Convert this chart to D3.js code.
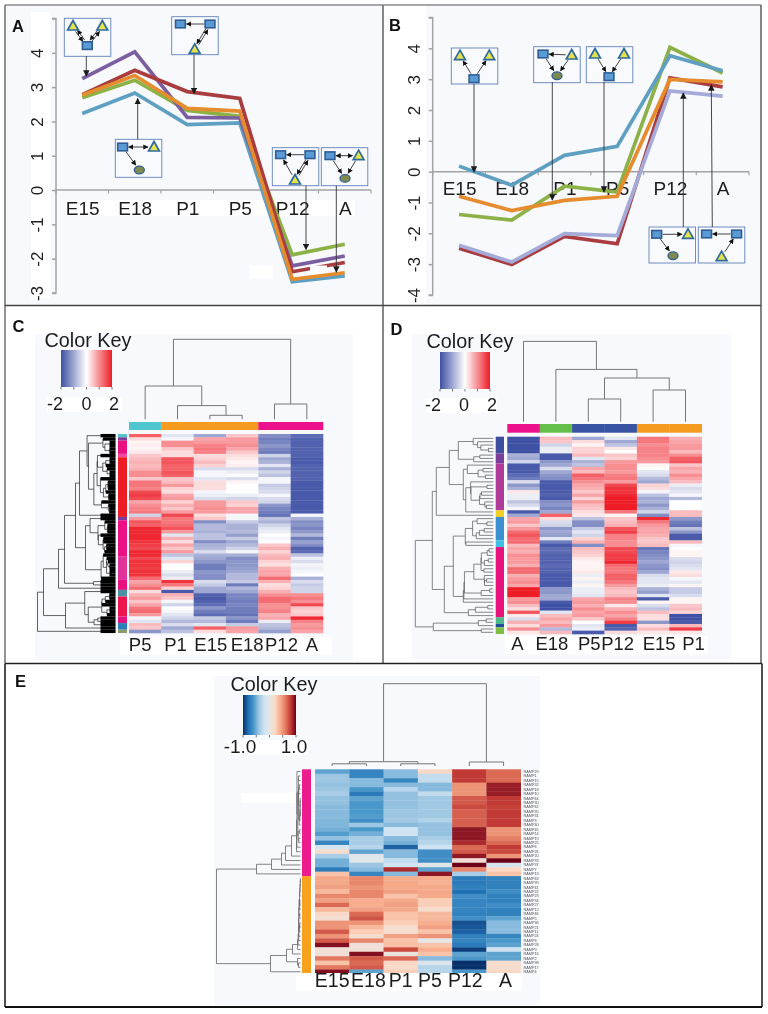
<!DOCTYPE html>
<html><head><meta charset="utf-8">
<style>html,body{margin:0;padding:0;background:#fff}svg{display:block;filter:blur(.35px)}text{font-family:"Liberation Sans",Arial,sans-serif}</style>
<script src="https://cdn.jsdelivr.net/npm/d3@7"></script></head><body>
<svg id="c" width="768" height="1014"></svg>
<script>
// ---------- data ----------
const stages=["E15","E18","P1","P5","P12","A"];
const linesA={
 blue:[2.23,2.83,1.91,1.96,-2.67,-2.5],
 green:[2.69,3.2,2.32,2.15,-1.89,-1.58],
 purple:[3.25,4.03,2.12,2.1,-2.21,-1.92],
 red:[2.78,3.49,2.87,2.67,-2.38,-2.11],
 orange:[2.77,3.34,2.38,2.3,-2.6,-2.41]};
const linesB={
 red:[-2.48,-3.01,-2.1,-2.34,3.04,2.75],
 lavender:[-2.39,-2.93,-2.01,-2.07,2.62,2.45],
 green:[-1.39,-1.57,-0.47,-0.66,4.03,3.2],
 blue:[0.18,-0.44,0.53,0.82,3.76,3.27],
 orange:[-0.8,-1.26,-0.93,-0.8,2.99,2.91]};
const lineColors={blue:"#5f9fc2",green:"#8cb146",purple:"#7b5ea0",red:"#a83c3e",orange:"#e48c2e",lavender:"#a5abd8"};

const colsC=["P5","P1","E15","E18","P12","A"];
const heatC=[
[1.4,-.3,-1,.5,-1.3,-1.7],[.3,-.1,.8,.9,-1.5,-1.8],[.1,1,.9,.9,-1.4,-1.8],[.15,1,1.1,1,-1.2,-1.8],[.1,.5,1.2,.8,-1.4,-1.8],
[.2,.3,1.1,.5,-1.5,-1.8],[.5,.3,.3,.3,-.5,-1.8],[.6,1.5,.4,.2,-1,-1.9],[.7,1.5,.6,.1,-.9,-1.9],[.6,1.4,.4,.15,-.3,-1.8],
[.7,1.4,-.4,-.4,-.9,-1.8],[1,1.5,-.1,-.2,-.5,-1.8],[1,1.4,-.1,-.05,-.7,-1.8],[.5,.5,-.3,-.4,-.1,-1.8],[1.2,.6,.3,.1,-.1,-1.9],
[1.2,.9,.3,0,-.6,-1.9],[1.1,.4,.3,0,-.5,-1.9],[1.6,.3,-.1,0,-.4,-1.9],[1.7,.8,-.2,-.2,-.1,-1.9],[1.6,.9,-.4,-.5,-.4,-1.9],
[.8,.4,.9,.5,-.5,-1.9],[1,.7,.9,.4,-1.2,-1.9],[1.1,.5,1,.8,-1.4,-1.9],[1.2,.9,.9,.8,-1.5,-1.9],[-.5,1.6,.3,-.1,-1.6,-.1],
[.9,1.2,.5,-.1,-.7,-.9],[1.5,1.2,-1.3,-.6,-.9,-1.3],[1.4,1.3,-.8,-.9,-.5,-1.2],[1.9,1.5,-.8,-.9,-.3,-1.4],[1.9,.9,-.9,-.8,-.2,-1.2],
[1.9,-.3,-.7,-1.1,0,-.8],[1.9,.7,-.7,-.6,-.1,-1.5],[1.8,.3,-1.3,-1,0,-1.1],[1.7,.8,-.9,-.8,.5,-1.3],[1.6,.5,-.8,-.5,.7,-1.8],
[1.9,.9,-.4,-.1,.4,-1.7],[1.9,-.7,-.9,-.9,.6,-.7],[1.6,-.3,-1,-1.3,.7,-.2],[1.8,.4,-1.2,-1.2,.4,-.4],[1.8,0,-1.5,-1.2,.3,-.1],
[1.7,0,-1.5,-1.1,.7,-.2],[1.8,-.2,-1.2,-1,.8,-.1],[1.8,-.4,-1.3,-.8,.8,0],[1.3,-.2,-1.3,-.8,1.3,-.9],[.8,1.8,-.4,-.6,.7,-.4],
[1,1.2,-.6,-1.5,.3,-.6],[1.3,.4,-1,-.8,.4,-.5],[.3,-1.9,-1,-1,.7,-.5],[.7,.7,-1.8,-1.4,1,1],[.9,.5,-1.9,-1.4,1.3,1.2],
[.5,-.1,-1.8,-1.5,1.3,1],[.8,-.5,-1.7,-1.4,1,1.6],[1.2,0,-1.2,-1.5,1,.5],[1.3,-.1,-1.5,-1.5,1.1,.4],[.9,-.3,-1.7,-1.6,.7,.5],
[-.1,-.5,-.6,-1.2,.8,1.9],[-.3,-.8,-.8,-1.5,-.2,1.1],[.6,-.4,-.3,-.6,-.7,.9],[.5,-1,1.4,.9,-.8,1],[-1.2,-.7,.3,.8,-1.1,.8]];

const colsD=["A","E18","P5","P12","E15","P1"];
const heatD=[
[-2,.6,-1,-.3,1.2,.7],[-2,.5,.3,-1,1.2,.8],[-2,-.5,.1,-.7,1,.9],[-2,-.2,.4,.2,1.1,.9],[-2,-.2,.4,0,1.1,.6],
[-.9,-1.9,.6,.5,1.1,1],[-1,-1.9,-.3,.4,1,1.4],[-.5,-1.2,-.9,.9,.9,1.5],[-1.9,-1,-.7,1,.1,.5],[-1.9,-.4,.8,1,0,.8],
[-1.9,-1,.6,.9,-.3,.7],[-1.7,-1.2,1.4,1.1,-.4,1],[-1.5,-1.3,1.2,1.2,-.8,.8],[-.4,-1.9,1,.9,-1,.6],[-1.2,-1.9,.8,1.6,.4,-.2],
[-.9,-1.9,.7,1.8,.3,-.4],[.2,-1.9,.5,1.8,-.1,-.3],[-.2,-1.8,.8,1.9,-.7,-.1],[-.2,-1.9,.4,2,-1,-.8],[-.7,-1.3,.9,2,-.9,0],
[-.4,-1.2,.6,2,-1.2,0],[-.1,-1.4,.5,2,-.9,0],[-1.9,-1,.3,1.2,-.5,.6],[-1,1.4,.2,.1,-1.3,.6],[.8,.3,-.7,.5,1.9,-1.2],
[.9,-.4,-1.3,.6,1.2,-1.5],[.5,-.5,-1.3,.7,.9,-1.6],[.9,-1.2,-.6,1.5,.8,-.7],[1.3,-1,-.3,1.7,.8,-1.2],
[1.5,-1.1,-.5,1.1,.7,-1.9],[1.3,-.3,.4,1.1,.5,-1.9],[1.3,-1.5,.7,1,.5,.6],[.6,-1.9,-1.3,1,.6,-.1],[.8,-1.7,.6,1.6,-1.6,0],
[.7,-1.7,.5,1.6,-1.4,.1],[1,-1.8,.4,1.7,-1.3,.1],[.9,-1.8,.2,1.7,-1.2,-.4],[.9,-1.8,.1,1.9,-1,-.5],[.7,-1.7,.1,1.3,-1.2,-.4],
[1.3,-1.8,.1,1.2,-1.3,-.3],[1.3,-1.8,.2,1.2,-1,.2],[.7,-1.9,-.2,1.4,-.4,.3],[.9,-1.9,.1,1.4,-.3,-.1],[1,-1.9,-.2,1.2,-.3,-.3],
[.8,-1.9,.1,.9,-.2,.1],[2,-1.2,-.2,.6,-.9,-.6],[2,-1.2,-.2,.5,-1.1,-.6],[2,-1,-.3,.6,-.3,-.4],[.9,-1,.8,1.1,-1.9,.1],
[1,-1.9,.9,1,.1,.1],[.6,-2,.7,.2,-.4,.5],[.3,-2,1,.7,-.7,.6],[1.5,-.3,.8,1,.6,.4],[.2,.6,.9,.8,.3,-2],
[-.4,.8,.5,1.1,.3,-2],[.7,.6,0,1.7,-1.2,-1.9],[.3,.9,-.3,-1.9,.3,.6],[1,-.8,-.2,-1.8,.6,1.7],[.2,.6,-1.9,.3,.2,.2]];

const colsE=stages;
const heatE=[
[-.55,-.7,-.45,.2,.8,.65],[-.4,-.7,-.45,-.25,.8,.65],[-.4,-.45,-.7,-.25,.8,.65],[-.42,-.45,-.45,-.45,.5,.9],
[-.4,-.6,-.3,-.45,.5,.9],[-.35,-.75,-.42,-.25,.5,.9],[-.42,-.55,-.42,-.38,.7,.8],[-.42,-.6,-.42,-.38,.7,.8],
[-.45,-.6,-.42,-.38,.75,.78],[-.45,-.6,-.4,-.38,.68,.8],[-.45,-.58,-.4,-.38,.68,.8],[-.47,-.65,-.38,-.32,.68,.8],
[-.47,-.4,-.45,-.42,.68,.8],[-.5,-.6,-.2,-.42,.92,.5],[-.58,-.5,-.2,-.42,.92,.5],[-.42,-.35,-.45,-.35,.92,.58],
[-.7,-.35,-.5,-.3,.85,.65],[-.15,-.3,-.85,-.2,.65,.8],[.15,-.55,-.45,-.65,.7,.75],[-.35,-.05,-.45,-.65,.92,.5],
[-.5,-.05,-.25,-.65,.1,1],[-.5,-.4,-.2,-.05,1,-.15],[-.75,-.45,.85,-.55,.55,.2],[.3,-.7,-.45,.92,-.35,.3],
[.42,.55,.4,.4,-.75,-.72],[.42,.55,.42,.38,-.75,-.72],[.45,.5,.42,.42,-.72,-.72],[.35,.55,.45,.42,-.8,-.65],
[.55,.55,.3,.42,-.65,-.72],[.45,.4,.42,.25,-.7,-.72],[.65,.4,.45,.25,-.7,-.65],[.35,.45,.42,.15,-.7,-.72],
[.2,.65,.3,.35,-.72,-.72],[.12,.72,.3,.35,-.65,-.55],[.5,.5,.25,.4,-.9,-.45],[.5,.35,.15,.45,-.88,-.45],
[.7,.25,.15,.3,-.85,-.45],[.5,.15,.45,.5,-.72,-.7],[.7,.55,.3,0,-.7,-.6],[.95,.08,.32,.3,-.75,-.55],
[.1,.1,.75,.4,-.95,-.2],[.1,.95,.05,.3,-.55,-.55],[.6,.7,.65,-.45,-.6,-.55],[.3,.65,.2,-.1,-1,.15],
[.6,.7,.18,-.3,-1,.15],[.95,-.55,.25,-.3,-.6,.2]];
const rampIds=[29,1,15,32,18,10,44,30,42,35,31,3,40,45,14,19,25,6,26,20,33,37,7,13,43,39,41,22,23,34,27,12,46,5,36,21,11,24,8,28,9,16,2,38,17,4];

const colBarC=["#4fc6cf","#f59b1f","#f59b1f","#f59b1f","#ec108c","#ec108c"];
const colBarD=["#ec108c","#63bf4a","#3852a4","#3852a4","#f59b1f","#f59b1f"];
const sideC=[["#4fc6cf",1],["#7a3d9a",1],["#ea1080",4],["#f04aa5",1],["#ee1c25",18],["#7a3d9a",1],["#ec0f85",11],["#e0329c",7],["#ea1080",3],["#4a92a2",2],["#ee1450",6],["#e2147e",2],["#2a7fbd",2],["#8f9a6a",1]];
const sideD=[["#3f4da0",5],["#7a3d9a",3],["#b03a98",14],["#f0d020",2],["#3a8fd0",7],["#40c0e0",2],["#e8127f",21],["#4fb88a",2],["#1f4da0",1],["#80c040",2]];
const sideE=[["#ec1c8e",24],["#f7a11e",22]];

// dendrogram merge heights
const N=(h,...kids)=>({h,kids}), R=(h,s,e)=>({h,span:[s,e]}), L=i=>({h:0,row:i});
const topC=N(80,N(33.3,L(0),N(13.7,L(1),N(4,L(2),L(3)))),N(15.3,L(4),L(5)));
const topD=N(80.3,L(0),N(52.3,L(1),N(43.7,N(22.7,L(2),L(3)),N(31.7,L(4),L(5)))));
const topE=N(82.3,N(4.3,N(2.2,L(0),L(1)),N(2.2,L(2),L(3))),N(4,L(4),L(5)));
const sideTreeC=N(78,N(72,N(57,N(51,N(40,R(36,0,25),R(30,25,44)),R(22,44,46)),L(46)),R(50,47,59)),L(59));
const sideTreeD=N(78,N(61,N(57,N(44,R(35,0,8),R(30,8,23)),L(23)),N(49,N(40,R(28,24,33),R(30,33,50)),R(25,50,54))),N(60,R(15,54,57),R(12,57,59)));
const sideTreeE=N(84,N(44,N(29,N(19,N(15,N(9,R(4,0,19),L(19)),L(20)),L(21)),L(22)),L(23)),N(30,N(14,N(8,R(3,24,41),L(41)),N(3,L(42),N(2,L(43),L(44)))),L(45)));

// network motif insets: kinds and edges
const motifTypes={
 a1:{n:[["t",8.7,7.7],["t",38,7.7],["s",23,27.3]],e:[[0,2,"dbl"],[1,2,"dbl"]]},
 a2:{n:[["s",8.7,7.3],["s",38.3,7.3],["t",23,32.7]],e:[[1,0,"one"],[1,2,"dbl"]]},
 a3:{n:[["s",7.3,7.7],["t",38.7,7.7],["o",24,30.7]],e:[[0,1,"bi"],[0,2,"one"]]},
 a4:{n:[["s",8.3,7],["s",37.7,7],["t",22.7,32.3]],e:[[1,0,"one"],[2,0,"one"],[1,2,"dbl"]]},
 a5:{n:[["s",8.7,8],["t",37.3,8],["o",23.7,30.7]],e:[[0,1,"bi"],[0,2,"one"],[1,2,"one"]]},
 b1:{n:[["t",8.7,7.7],["t",38,7.7],["s",22.7,30.7]],e:[[2,0,"one"],[2,1,"one"]]},
 b2:{n:[["s",9.3,7.3],["t",38,8.3],["o",23.3,29]],e:[[1,0,"one"],[0,2,"one"],[1,2,"one"]]},
 b3:{n:[["t",8.7,7.3],["t",37.7,7.3],["s",22.7,30]],e:[[0,2,"one"],[1,2,"one"]]},
 b4:{n:[["s",7.7,7.3],["t",39,7.3],["o",24,28.7]],e:[[0,1,"one"],[0,2,"one"]]},
 b5:{n:[["s",8.3,7],["s",38.3,7],["t",23.3,29.7]],e:[[1,0,"one"],[2,1,"one"]]}};
const insets=[
 ["a1",64.3,18.3,38,86.3,56,86.3,76],["a2",171.7,16.7,38,194,55,194,93.5],["a3",115.3,139.3,38,137.7,139.3,137.7,98.5],
 ["a4",272.3,147.7,38,306,185.7,306,249.5],["a5",321.3,147.7,38,336.3,185.7,336.3,272],
 ["b1",451.3,48,36,474,84,474,172],["b2",533.7,46.7,36,552.3,82,552.3,200],["b3",586.3,46.7,36,604,82,604,192],
 ["b4",649,227,36,683.3,227,683.3,93],["b5",698.3,227,36,712.3,227,711.3,85]];

// ---------- helpers ----------
const svg=d3.select("#c");
const defs=svg.append("defs");
function marker(id,size,color){
 defs.append("marker").attr("id",id).attr("viewBox","0 0 10 10").attr("refX",9).attr("refY",5)
  .attr("markerWidth",size).attr("markerHeight",size).attr("markerUnits","userSpaceOnUse").attr("orient","auto-start-reverse")
  .append("path").attr("d","M0,0L10,5L0,10z").attr("fill",color);
}
marker("ptr",6.5,"#1a1a1a");marker("edge",5.2,"#111");
const rect=(g,x,y,w,h,f)=>g.append("rect").attr("x",x).attr("y",y).attr("width",w).attr("height",h).attr("fill",f);
const FONT=19;

svg.append("rect").attr("width",768).attr("height",1014).attr("fill","#fff");
// panel backgrounds
rect(svg,5,5,378,300,"#f7f9fd");rect(svg,426,5,334,300,"#f7f9fd");
rect(svg,31,12,19,286,"#fff");rect(svg,384,5,42,300,"#fff");
rect(svg,35,334,318,326,"#f7f9fd");rect(svg,412,334,319,325,"#f7f9fd");rect(svg,214,676,326,329,"#f7f9fd");

// ---------- line panels ----------
function linePanel(o){
 const g=svg.append("g");
 const x=d3.scaleBand().domain(stages).range(o.xr);
 const y=d3.scaleLinear().domain(o.yd).range(o.yr);
 const bw=x.bandwidth();
 // white strip & labels
 rect(g,o.strip[0],o.labelY-8,o.strip[1]-o.strip[0],16,"#fff");
 g.selectAll("text.xl").data(stages).join("text").attr("x",d=>x(d)+bw/2+.5).attr("y",o.labelY+6.8)
  .attr("text-anchor","middle").attr("font-size",FONT).attr("fill","#1c1c1c").text(d=>d);
 // y axis
 const ax=d3.axisLeft(y).tickValues(d3.range(o.yd[0],o.yd[1]+1)).tickSize(4).tickFormat(d=>d===5?"":d);
 const ag=g.append("g").attr("transform",`translate(${o.xr[0]},0)`).call(ax);
 ag.selectAll("path,line").attr("stroke","#a3a3a3").attr("stroke-width",1.5);
 ag.select(".domain").attr("d",`M-4,${y(o.yd[0])}H0V${y(o.yd[1])}H-4`);
 ag.selectAll("text").attr("font-size",17).attr("font-family","Liberation Sans").attr("fill","#222")
   .attr("text-anchor","middle").attr("x",0).attr("dy",0)
   .attr("transform",d=>`translate(${o.labX-o.xr[0]},0) rotate(-90) translate(0,6)`);
 // zero line + band-edge ticks
 g.append("line").attr("x1",o.xr[0]).attr("x2",o.xr[1]).attr("y1",y(0)).attr("y2",y(0)).attr("stroke","#a3a3a3").attr("stroke-width",1.5);
 g.selectAll("line.et").data(d3.range(stages.length+1)).join("line").attr("class","et")
  .attr("x1",i=>o.xr[0]+i*bw).attr("x2",i=>o.xr[0]+i*bw).attr("y1",y(0)).attr("y2",y(0)+3.5).attr("stroke","#a3a3a3").attr("stroke-width",1.2);
 const line=d3.line().x((d,i)=>x(stages[i])+bw/2).y(d=>y(d)).curve(d3.curveLinear);
 Object.entries(o.series).forEach(([k,v])=>{
  if(k==="orange"&&o.patches) o.patches.forEach(p=>rect(g,p[0],p[1],p[2],p[3],"#fff"));
  g.append("path").attr("d",line(v)).attr("fill","none").attr("stroke",lineColors[k]).attr("stroke-width",3.7).attr("stroke-linejoin","miter");
 });
}
linePanel({xr:[56,371],yd:[-3,5],yr:[293,18.5],labX:37,labelY:208,strip:[66,355],series:linesA,patches:[[250,265.5,23,13],[310,265.5,17,10.5]]});
linePanel({xr:[432.7,749],yd:[-4,5],yr:[295,17.5],labX:414,labelY:188,strip:[445,445],series:linesB});

// ---------- insets ----------
const ig=svg.append("g");
insets.forEach(([type,bx,by,bh,x1,y1,x2,y2])=>{
 const m=motifTypes[type], g=ig.append("g");
 rect(g,bx,by,46.5,bh,"#f8fafd").attr("stroke","#5f82b8").attr("stroke-width",.9);
 const pos=m.n.map(d=>[bx+d[1],by+d[2]]);
 m.e.forEach(([a,b,k])=>{
  const A=pos[a],B=pos[b],dx=B[0]-A[0],dy=B[1]-A[1],L0=Math.hypot(dx,dy),ux=dx/L0,uy=dy/L0;
  const seg=(off,rev,both)=>{
   const px=-uy*off,py=ux*off;
   const l=g.append("line").attr("x1",A[0]+ux*6+px).attr("y1",A[1]+uy*6+py).attr("x2",B[0]-ux*6+px).attr("y2",B[1]-uy*6+py)
    .attr("stroke","#111").attr("stroke-width",.8);
   if(rev||both) l.attr("marker-start","url(#edge)");
   if(!rev||both) l.attr("marker-end","url(#edge)");
  };
  if(k==="one") seg(0,false,false);
  if(k==="bi") seg(0,false,true);
  if(k==="dbl"){seg(1.1,false,false);seg(-1.1,true,false);}
 });
 m.n.forEach((d,i)=>{
  const [cx,cy]=pos[i];
  if(d[0]==="s") rect(g,cx-4.9,cy-3.8,9.8,7.6,"#5b9bd5").attr("stroke","#2f5d94").attr("stroke-width",1.6);
  if(d[0]==="t") g.append("path").attr("d",`M${cx},${cy-5.5}L${cx+5.4},${cy+4}L${cx-5.4},${cy+4}z`).attr("fill","#e6e24c").attr("stroke","#2f6a9e").attr("stroke-width",1.7);
  if(d[0]==="o") g.append("ellipse").attr("cx",cx).attr("cy",cy).attr("rx",5).attr("ry",3.8).attr("fill","#7f8a4e").attr("stroke","#2f5d94").attr("stroke-width",1.3);
 });
 ig.append("line").attr("x1",x1).attr("y1",y1).attr("x2",x2).attr("y2",y2).attr("stroke","#333").attr("stroke-width",.9).attr("marker-end","url(#ptr)");
});

// ---------- dendrogram utils ----------
function autoTree(rows,s,e,h){
 let cl=d3.range(s,e).map(i=>({node:L(i),v:rows[i],n:1}));
 if(cl.length===1) return cl[0].node;
 const dist=(a,b)=>Math.sqrt(d3.sum(a.v,(d,i)=>(d-b.v[i])**2));
 while(cl.length>1){
  let bi=0,bd=1e9;
  for(let i=0;i<cl.length-1;i++){const dd=dist(cl[i],cl[i+1])*(1+.05*Math.min(cl[i].n,cl[i+1].n));if(dd<bd){bd=dd;bi=i;}}
  const a=cl[bi],b=cl[bi+1],n=a.n+b.n;
  const hh=Math.max(bd,a.node.h*1.02,b.node.h*1.02);
  cl.splice(bi,2,{node:N(hh,a.node,b.node),v:a.v.map((d,i)=>(d*a.n+b.v[i]*b.n)/n),n});
 }
 const k=h/cl[0].node.h;
 (function sc(t){t.h*=k;(t.kids||[]).forEach(sc);})(cl[0].node);
 return cl[0].node;
}
function expand(t,rows){
 if(t.span) return autoTree(rows,t.span[0],t.span[1],t.h);
 if(t.kids) return {h:t.h,kids:t.kids.map(c=>expand(c,rows))};
 return t;
}
function layoutTree(t,pos){
 const root=d3.hierarchy(t,d=>d.kids);
 root.eachAfter(n=>{n.p=n.children?(n.children[0].p+n.children[n.children.length-1].p)/2:pos(n.data.row);});
 return root;
}
function drawTree(g,root,fx,fy,stroke,sw){
 g.selectAll("path.den").data(root.descendants().filter(n=>n.children)).join("path").attr("class","den")
  .attr("fill","none").attr("stroke",stroke).attr("stroke-width",sw)
  .attr("d",n=>{
    const h=fx(n.data.h),a=n.children[0],b=n.children[n.children.length-1];
    return fy(fx(a.data.h),a.p)+"L"+fy(h,a.p).slice(1)+"L"+fy(h,b.p).slice(1)+"L"+fy(fx(b.data.h),b.p).slice(1);
  });
}

// ---------- heatmaps ----------
function heat(o){
 const g=svg.append("g");
 const x=d3.scaleBand().domain(d3.range(6)).range(o.xr);
 const y=d3.scaleBand().domain(d3.range(o.rows.length)).range(o.yr);
 const color=d3.scaleLinear().domain(o.cd).range(o.cr).clamp(true);
 g.selectAll("g.r").data(o.rows).join("g").attr("class","r").attr("transform",(d,i)=>`translate(0,${y(i)})`)
  .selectAll("rect").data(d=>d).join("rect").attr("x",(d,i)=>x(i)).attr("width",x.bandwidth()+.3).attr("height",y.bandwidth()+.3).attr("fill",d=>color(d));
 if(o.colBar) g.selectAll("rect.cb").data(o.colBar).join("rect").attr("class","cb").attr("x",(d,i)=>x(i)).attr("width",x.bandwidth()+.3)
  .attr("y",o.colBarY[0]).attr("height",o.colBarY[1]-o.colBarY[0]).attr("fill",d=>d);
 let acc=0; const segs=o.side.map(([c,n])=>{const s={c,s:acc,n};acc+=n;return s;});
 g.selectAll("rect.sb").data(segs).join("rect").attr("class","sb").attr("x",o.sideX[0]).attr("width",o.sideX[1]-o.sideX[0])
  .attr("y",d=>y(d.s)).attr("height",d=>y.bandwidth()*d.n).attr("fill",d=>d.c);
 const top=layoutTree(o.topTree,i=>x(i)+x.bandwidth()/2);
 const hy=d3.scaleLinear().domain([0,100]).range([o.topBase,o.topBase-100]);
 drawTree(g.append("g"),top,hy,(v,p)=>`M${p},${v}`,"#777",1);
 const sd=expand(o.sideTree,o.rows);
 const sr=layoutTree(sd,i=>y(i)+y.bandwidth()/2);
 const hx=d3.scaleLinear().domain([0,100]).range([o.sideBase,o.sideBase-100]);
 const ln=g.append("g");
 drawTree(ln,sr,hx,(v,p)=>`M${v},${p}`,o.treeStroke,o.treeW);
 if(o.tip){
  ln.selectAll("line.tip").data(sr.leaves()).join("line").attr("class","tip")
   .attr("x1",n=>hx(Math.max(Math.min(n.parent.data.h,o.tip),o.tip*.4))).attr("x2",o.sideBase).attr("y1",n=>n.p).attr("y2",n=>n.p)
   .attr("stroke","#000").attr("stroke-width",y.bandwidth()+.1);
 }
 rect(g,o.strip[0],o.labelY-12,o.strip[1]-o.strip[0],18,"#fff");
 g.selectAll("text.cl").data(o.cols).join("text").attr("x",(d,i)=>x(i)+x.bandwidth()/2+o.labelDx[i]).attr("y",o.labelY+1.5)
  .attr("text-anchor","middle").attr("font-size",o.labelFont).attr("fill","#1c1c1c").text(d=>d);
 const kx=d3.scaleLinear().domain([o.cd[0],o.cd[o.cd.length-1]]).range(o.keyX);
 const gid="grad"+o.id;
 const grad=defs.append("linearGradient").attr("id",gid);
 d3.range(0,1.001,.05).forEach(t=>grad.append("stop").attr("offset",t).attr("stop-color",color(kx.invert(o.keyX[0]+t*(o.keyX[1]-o.keyX[0])))));
 rect(g,o.keyX[0],o.keyY[0],o.keyX[1]-o.keyX[0],o.keyY[1]-o.keyY[0],`url(#${gid})`);
 g.selectAll("line.kt").data(o.keyTicks).join("line").attr("class","kt").attr("x1",d=>kx(d)).attr("x2",d=>kx(d))
  .attr("y1",o.keyY[1]).attr("y2",o.keyY[1]+2.5).attr("stroke","#555").attr("stroke-width",.8);
 g.append("text").attr("x",o.keyTitle[0]).attr("y",o.keyTitle[1]).attr("text-anchor","middle").attr("font-size",19.8).attr("fill","#1c1c1c").text("Color Key");
 rect(g,o.keyStrip[0],o.keyStrip[1],o.keyStrip[2],o.keyStrip[3],"#fff");
 g.selectAll("text.kl").data(o.keyLabels).join("text").attr("x",d=>kx(d[0])+d[2]).attr("y",o.keyStrip[1]+o.keyStrip[3]-2.5)
  .attr("text-anchor","middle").attr("font-size",o.keyFont).attr("fill","#1c1c1c").text(d=>d[1]);
 return {g,x,y};
}
const hc2=["#3f51a5","#ffffff","#ee1c25"];
heat({id:"C",rows:heatC,cols:colsC,xr:[129,323],yr:[434,633],cd:[-2,0,2],cr:hc2,colBar:colBarC,colBarY:[422,430],side:sideC,sideX:[118,127],
 topTree:topC,topBase:419.3,sideTree:sideTreeC,sideBase:115.5,treeStroke:"#222",treeW:.7,tip:15,labelFont:18.5,
 strip:[120,332],labelY:649,labelDx:[-5,-2,1,5,7,5],keyX:[61,112],keyY:[350,387],keyTicks:[-2,-1,0,1,2],keyTitle:[88,347],keyFont:18,
 keyStrip:[47,397,75,15],keyLabels:[[-2,"-2",-6],[0,"0",0],[2,"2",2]]});
heat({id:"D",rows:heatD,cols:colsD,xr:[507.3,701.7],yr:[436.7,634],cd:[-2,0,2],cr:hc2,colBar:colBarD,colBarY:[424,432.7],side:sideD,sideX:[495.7,504],
 topTree:topD,topBase:421.7,sideTree:sideTreeD,sideBase:493.3,treeStroke:"#555",treeW:.7,tip:0,labelFont:18.5,
 strip:[505,708],labelY:648,labelDx:[-6,-4,1,-3,6,8],keyX:[440,490],keyY:[352,389],keyTicks:[-2,-1,0,1,2],keyTitle:[470,348],keyFont:18,
 keyStrip:[427,398,70,15],keyLabels:[[-2,"-2",-7],[0,"0",-1],[2,"2",2]]});
const eCols=["#08306b","#2171b5","#4a98ca","#9cc6e2","#cfe3f2","#e6e6e6","#fbd8c5","#f6ae8e","#e37a60","#c23a35","#6b0018"];
const e=heat({id:"E",rows:heatE,cols:colsE,xr:[315,520.7],yr:[769.3,974],cd:d3.range(-1,1.001,.2),cr:eCols,side:sideE,sideX:[302,311],
 topTree:topE,topBase:766,sideTree:sideTreeE,sideBase:300.5,treeStroke:"#666",treeW:.8,tip:0,labelFont:19.5,
 strip:[296,522],labelY:985,labelDx:[0,2,0,-5,-4,2],keyX:[243,296],keyY:[695,735],keyTicks:[-1,-.5,0,.5,1],keyTitle:[274,691],keyFont:19,
 keyStrip:[228,740,80,15],keyLabels:[[-1,"-1.0",-3],[1,"1.0",-2]]});
e.g.selectAll("text.rl").data(rampIds).join("text").attr("x",523.5).attr("y",(d,i)=>e.y(i)+e.y.bandwidth()/2+1.3)
 .attr("font-size",3.8).attr("fill","#555").text(d=>"RAMP"+d);
rect(e.g,242,793,53,10,"#fff");

// ---------- frame ----------
const frame=[[5,5,383,5,"#8a8a8a",1.6],[5,5,5,663,"#777",1.6],[383,5,383,663,"#555",1.4],[383,5,761,5,"#8a8a8a",1.6],[761,5,761,663,"#666",1.6],
 [5,305.5,761,305.5,"#444",1.4],[5,663.5,762,663.5,"#222",1.6],[5,663.5,5,1007,"#222",1.6],[762,663.5,762,1007,"#222",1.6],[5,1007,762,1007,"#111",1.8]];
svg.selectAll("line.fr").data(frame).join("line").attr("class","fr").attr("x1",d=>d[0]).attr("y1",d=>d[1]).attr("x2",d=>d[2]).attr("y2",d=>d[3])
 .attr("stroke",d=>d[4]).attr("stroke-width",d=>d[5]);
svg.selectAll("text.pl").data([["A",12,32],["B",389,31],["C",12.5,332],["D",390.5,335],["E",15,687]]).join("text")
 .attr("x",d=>d[1]).attr("y",d=>d[2]).attr("font-size",16.5).attr("font-weight","bold").attr("fill","#111").text(d=>d[0]);
</script></body></html>
